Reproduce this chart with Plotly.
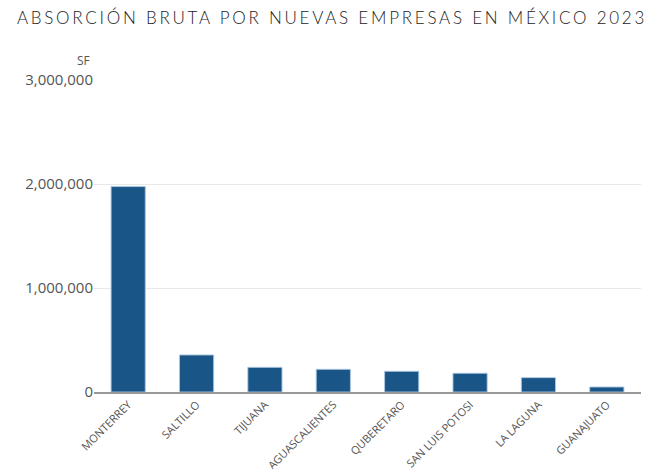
import plotly.graph_objects as go

ciudades = ["MONTERREY", "SALTILLO", "TIJUANA", "AGUASCALIENTES", "QUBERETARO",
            "SAN LUIS POTOSI", "LA LAGUNA", "GUANAJUATO"]
absorcion_sf = [1975000, 356000, 237000, 218000, 199000, 180000, 138000, 48000]

fig = go.Figure()
fig.add_trace(go.Bar(
    x=ciudades, y=absorcion_sf,
    marker=dict(color="#1a5588", line=dict(color="rgba(170,200,225,0.9)", width=1)),
))

fig.update_layout(
    width=664, height=469,
    margin=dict(l=94, r=23, t=80, b=77, autoexpand=False),
    paper_bgcolor="white", plot_bgcolor="white",
    bargap=0.5,
    showlegend=False,
    font=dict(family="Open Sans", color="#555"),
    title=dict(text="ABSORCIÓN BRUTA POR NUEVAS EMPRESAS EN MÉXICO 2023",
               x=0.5, xanchor="center", y=0.962, yanchor="middle",
               font=dict(family="Lato", size=17, color="#222", weight=300)),
    xaxis=dict(tickangle=-45, tickfont=dict(size=11, color="#555"), automargin=False,
               showline=True, linecolor="#999", linewidth=2, ticks=""),
    yaxis=dict(range=[0, 3000000], dtick=1000000, tickformat=",d", automargin=False,
               tickfont=dict(size=15, color="#555"), gridcolor="#e8e8e8",
               zeroline=False, ticks=""),
)

fig.add_annotation(text="SF", xref="paper", yref="paper", x=0, y=1,
                   xanchor="right", yanchor="bottom", xshift=-2, yshift=9,
                   showarrow=False, font=dict(size=12, color="#555"))

# no body margin, and a wider letter spacing for the title (plotly has no option for it)
page_js = """
document.body.style.margin = '0';
var st = document.createElement('style');
st.innerHTML = '.gtitle { letter-spacing: 2.75px; }';
document.head.appendChild(st);
"""
fig.write_html("out.html", post_script=page_js, config={"displayModeBar": False})
